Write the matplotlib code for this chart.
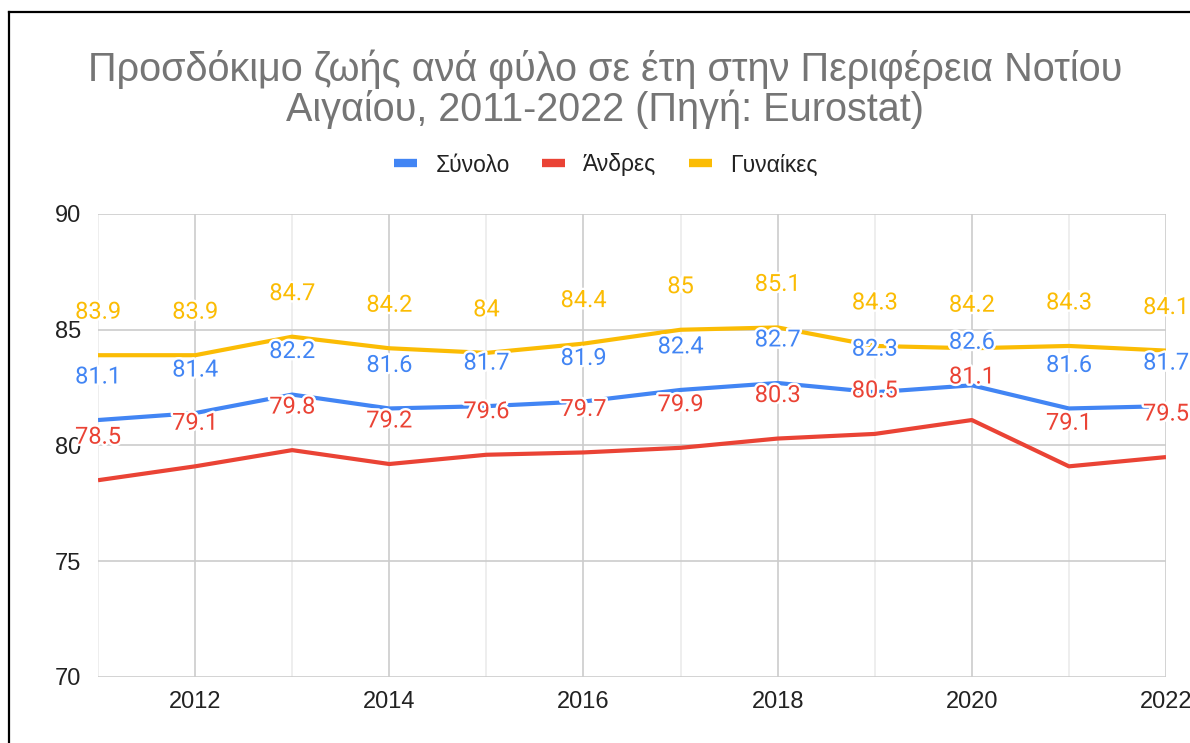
import matplotlib.pyplot as plt
import matplotlib.patheffects as pe
from matplotlib.lines import Line2D

years = [2011, 2012, 2013, 2014, 2015, 2016, 2017, 2018, 2019, 2020, 2021, 2022]
total = [81.1, 81.4, 82.2, 81.6, 81.7, 81.9, 82.4, 82.7, 82.3, 82.6, 81.6, 81.7]
men = [78.5, 79.1, 79.8, 79.2, 79.6, 79.7, 79.9, 80.3, 80.5, 81.1, 79.1, 79.5]
women = [83.9, 83.9, 84.7, 84.2, 84.0, 84.4, 85.0, 85.1, 84.3, 84.2, 84.3, 84.1]

series_names = ["Σύνολο", "Άνδρες", "Γυναίκες"]
colors = ["#4285F4", "#EA4335", "#FBBC04"]

title = "Προσδόκιμο ζωής ανά φύλο σε έτη στην Περιφέρεια Νοτίου\nΑιγαίου, 2011-2022 (Πηγή: Eurostat)"
y_ticks = [70, 75, 80, 85, 90]

W, H = 1190, 743
fig = plt.figure(figsize=(W / 100, H / 100), dpi=100)
ax = fig.add_axes([98 / W, 66 / H, (1166 - 98) / W, (677 - 214) / H])

ax.set_xlim(2011, 2022)
ax.set_ylim(70, 90)
ax.set_yticks(y_ticks)
ax.set_xticks([y for y in years if y % 2 == 0])
ax.set_xticks([y for y in years if y % 2 == 1], minor=True)
ax.tick_params(axis="both", which="both", length=0, labelsize=17, labelcolor="#222222")
ax.tick_params(axis="y", pad=12)
ax.tick_params(axis="x", pad=10)
for lab in ax.get_xticklabels() + ax.get_yticklabels():
    lab.set_fontfamily("Liberation Sans")

ax.grid(True, which="major", color="#cccccc", linewidth=1.2)
ax.grid(True, which="minor", axis="x", color="#ebebeb", linewidth=1.2)
ax.set_axisbelow(True)
for s in ax.spines.values():
    s.set_visible(False)

all_series = [total, men, women]
for vals, c in zip(all_series, colors):
    ax.plot(years, vals, color=c, linewidth=3, solid_capstyle="butt", zorder=3)

for vals, c in zip(all_series, colors):
    for x, v in zip(years, vals):
        txt = f"{v:g}"
        ax.annotate(txt, (x, v), xytext=(0, 31), textcoords="offset points",
                    ha="center", va="center", color=c, fontsize=17,
                    fontfamily="Roboto", zorder=5, annotation_clip=False,
                    path_effects=[pe.withStroke(linewidth=3.5, foreground="white")])

fig.text(605 / W, 1 - 89.5 / H, title, ha="center", va="center", fontsize=28.5,
         color="#757575", fontfamily="Liberation Sans", linespacing=1.02)

handles = [Line2D([0], [0], color=c, linewidth=6, solid_capstyle="butt") for c in colors]
leg = fig.legend(handles, series_names, loc="center", bbox_to_anchor=(606 / W, 1 - 165 / H),
                 ncol=3, frameon=False, handlelength=1.0, handletextpad=0.8,
                 columnspacing=1.4, prop={"family": "Liberation Sans", "size": 16.5})
for t in leg.get_texts():
    t.set_color("#222222")

# black frame of the screenshot (left and top edges only)
fig.add_artist(Line2D([8.5 / W, 8.5 / W], [0, 1 - 12 / H], color="black", linewidth=1.6,
                      transform=fig.transFigure))
fig.add_artist(Line2D([8.5 / W, 1], [1 - 12 / H, 1 - 12 / H], color="black", linewidth=1.6,
                      transform=fig.transFigure))

fig.savefig("out.png", dpi=100)
